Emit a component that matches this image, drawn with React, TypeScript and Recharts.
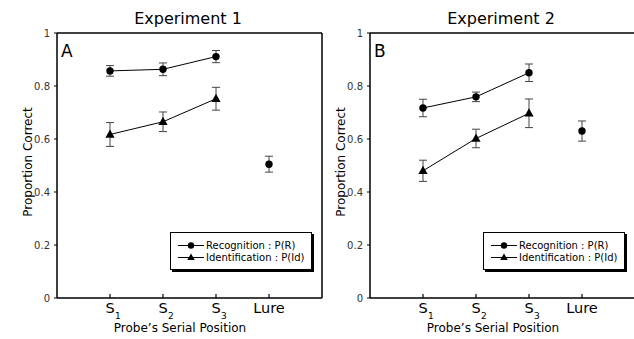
import React from 'react';
import { LineChart, Line, XAxis, YAxis, ErrorBar, ReferenceLine, Legend, Customized } from 'recharts';

const FONT = '"DejaVu Sans", sans-serif';

const tickMain = ['S', 'S', 'S', 'Lure'];
const tickSub = ['1', '2', '3', ''];
const xTickValues = [1, 2, 3, 4];
const yTicks = [0, 0.2, 0.4, 0.6, 0.8, 1];

const exp1Recognition = [0.857, 0.863, 0.911];
const exp1RecognitionErr = [0.02, 0.024, 0.023];
const exp1Identification = [0.617, 0.665, 0.752];
const exp1IdentificationErr = [0.045, 0.037, 0.043];
const exp1Lure = [0.505];
const exp1LureErr = [0.03];

const exp2Recognition = [0.717, 0.759, 0.85];
const exp2RecognitionErr = [0.033, 0.018, 0.033];
const exp2Identification = [0.48, 0.602, 0.697];
const exp2IdentificationErr = [0.04, 0.035, 0.054];
const exp2Lure = [0.63];
const exp2LureErr = [0.038];

function buildRows(rec: number[], recErr: number[], ide: number[], ideErr: number[], lure: number[], lureErr: number[]) {
  return xTickValues.map((x, i) => ({
    x,
    recog: i < 3 ? rec[i] : undefined,
    recogErr: i < 3 ? recErr[i] : undefined,
    ident: i < 3 ? ide[i] : undefined,
    identErr: i < 3 ? ideErr[i] : undefined,
    lure: i === 3 ? lure[0] : undefined,
    lureErr: i === 3 ? lureErr[0] : undefined,
  }));
}

const XTick = (props: any) => {
  const { x, y, payload } = props;
  const i = Math.round(payload.value) - 1;
  return (
    <g>
      <line x1={x} x2={x} y1={y - 4} y2={y} stroke="#000" strokeWidth={1.2} />
      <text x={x} y={y + 14.5} textAnchor="middle" fontSize={14.5} fill="#000" fontFamily={FONT}>
        {tickMain[i]}
      </text>
      {tickSub[i] ? (
        <text x={x + 5} y={y + 20.5} fontSize={9} fill="#000" fontFamily={FONT}>
          {tickSub[i]}
        </text>
      ) : null}
    </g>
  );
};

const CircleDot = (props: any) => {
  const { cx, cy, index } = props;
  if (cx == null || cy == null) return <g key={`c${index}`} />;
  return <circle key={`c${index}`} cx={cx} cy={cy} r={3.7} fill="#000" />;
};

const TriDot = (props: any) => {
  const { cx, cy, index } = props;
  if (cx == null || cy == null) return <g key={`t${index}`} />;
  return (
    <polygon
      key={`t${index}`}
      points={`${cx},${cy - 5} ${cx - 4.6},${cy + 3.2} ${cx + 4.6},${cy + 3.2}`}
      fill="#000"
    />
  );
};

const LegendBox = () => (
  <div
    style={{
      width: 142,
      height: 38,
      border: '1px solid #000',
      boxShadow: '2px 2px 0 #000',
      background: '#fff',
      boxSizing: 'border-box',
      position: 'relative',
    }}
  >
    <svg width={140} height={36} style={{ position: 'absolute', left: 0, top: 0 }}>
      <line x1={7} x2={33} y1={12.5} y2={12.5} stroke="#000" strokeWidth={1} />
      <circle cx={20} cy={12.5} r={3.2} fill="#000" />
      <line x1={7} x2={33} y1={24.5} y2={24.5} stroke="#000" strokeWidth={1} />
      <polygon points="20,20.5 16.2,27 23.8,27" fill="#000" />
      <text x={35} y={16} fontSize={10} fill="#000" fontFamily={FONT}>Recognition : P(R)</text>
      <text x={35} y={28} fontSize={10} fill="#000" fontFamily={FONT}>Identification : P(Id)</text>
    </svg>
  </div>
);

const Texts = ({ title, letter }: { title: string; letter: string }) => (
  <g fontFamily={FONT}>
    <text x={188} y={24} textAnchor="middle" fontSize={16} fill="#000">{title}</text>
    <text x={61} y={57} fontSize={17} fill="#000">{letter}</text>
    <text x={28} y={162} textAnchor="middle" dominantBaseline="central" fontSize={12} fill="#000" transform="rotate(-90 28 162)">
      Proportion Correct
    </text>
    <text x={180} y={332} textAnchor="middle" fontSize={12} fill="#000">Probe’s Serial Position</text>
  </g>
);

function Panel(props: { left: number; title: string; letter: string; rows: any[] }) {
  const { left, title, letter, rows } = props;
  return (
    <div style={{ position: 'absolute', left, top: 0, width: 330, height: 339 }}>
      <LineChart width={330} height={339} data={rows} margin={{ top: 33, right: 8, bottom: 0, left: 0 }}>
        <XAxis
          dataKey="x"
          type="number"
          domain={[0, 5]}
          ticks={xTickValues}
          interval={0}
          tick={<XTick />}
          tickLine={false}
          tickSize={0}
          tickMargin={0}
          height={41}
          axisLine={{ stroke: '#000', strokeWidth: 1.5 }}
        />
        <YAxis
          type="number"
          domain={[0, 1]}
          ticks={yTicks}
          interval={0}
          width={57}
          tickSize={3}
          tickMargin={4}
          tick={{ fontSize: 10, fill: '#333', fontFamily: FONT }}
          tickLine={{ stroke: '#000' }}
          axisLine={{ stroke: '#000', strokeWidth: 1.5 }}
        />
        <ReferenceLine y={1} stroke="#000" strokeWidth={1.5} />
        <ReferenceLine x={5} stroke="#000" strokeWidth={1.5} />
        <Line dataKey="recog" stroke="#000" strokeWidth={1} dot={<CircleDot />} activeDot={false} isAnimationActive={false}>
          <ErrorBar dataKey="recogErr" width={4} stroke="#444" strokeWidth={1} direction="y" isAnimationActive={false} />
        </Line>
        <Line dataKey="ident" stroke="#000" strokeWidth={1} dot={<TriDot />} activeDot={false} isAnimationActive={false}>
          <ErrorBar dataKey="identErr" width={4} stroke="#444" strokeWidth={1} direction="y" isAnimationActive={false} />
        </Line>
        <Line dataKey="lure" stroke="none" dot={<CircleDot />} activeDot={false} isAnimationActive={false}>
          <ErrorBar dataKey="lureErr" width={4} stroke="#444" strokeWidth={1} direction="y" isAnimationActive={false} />
        </Line>
        <Legend
          layout="vertical"
          align="center"
          verticalAlign="middle"
          content={() => <LegendBox />}
          wrapperStyle={{ left: 170, top: 232, width: 142, height: 38 }}
        />
        <Customized component={<Texts title={title} letter={letter} />} />
      </LineChart>
    </div>
  );
}

export default function App() {
  const rows1 = buildRows(exp1Recognition, exp1RecognitionErr, exp1Identification, exp1IdentificationErr, exp1Lure, exp1LureErr);
  const rows2 = buildRows(exp2Recognition, exp2RecognitionErr, exp2Identification, exp2IdentificationErr, exp2Lure, exp2LureErr);
  return (
    <div style={{ position: 'fixed', left: 0, top: 0, width: 634, height: 339, overflow: 'hidden', background: '#fff', fontFamily: FONT }}>
      <Panel left={0} title="Experiment 1" letter="A" rows={rows1} />
      <Panel left={313} title="Experiment 2" letter="B" rows={rows2} />
    </div>
  );
}
